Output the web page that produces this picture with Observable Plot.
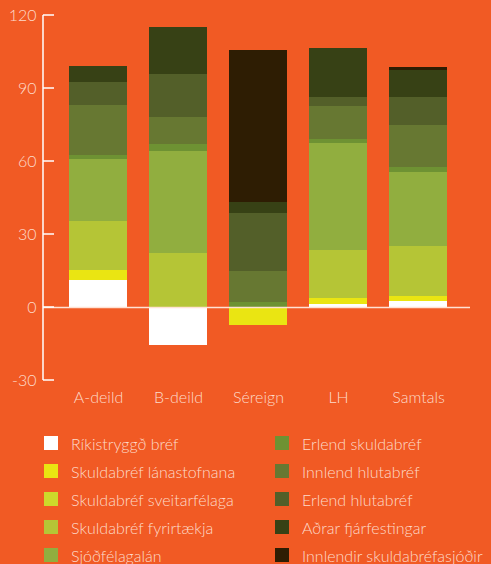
<!DOCTYPE html>
<html>
<head>
<meta charset="utf-8">
<script src="https://cdn.jsdelivr.net/npm/d3@7"></script>
<script src="https://cdn.jsdelivr.net/npm/@observablehq/plot@0.6"></script>
<style>
  html, body { margin: 0; padding: 0; background: #F15A24; }
  body { width: 491px; height: 564px; overflow: hidden; font-family: Lato, "Open Sans", sans-serif; }
  #chart svg { display: block; }
  .legend { display: grid; grid-template-columns: 231px auto; grid-auto-rows: 28px; padding: 9px 0 0 44px; color: #FDDACA; font-size: 16px; font-weight: 300; }
  .legend .item { display: flex; align-items: center; white-space: nowrap; }
  .legend .sw { width: 14px; height: 14px; margin-right: 13px; flex: none; }
</style>
</head>
<body>
<div id="chart"></div>
<div class="legend" id="legend"></div>
<script>
const categories = ["A-deild", "B-deild", "Séreign", "LH", "Samtals"];
const seriesNames = [
  "Ríkistryggð bréf",
  "Skuldabréf lánastofnana",
  "Skuldabréf sveitarfélaga",
  "Skuldabréf fyrirtækja",
  "Sjóðfélagalán",
  "Erlend skuldabréf",
  "Innlend hlutabréf",
  "Erlend hlutabréf",
  "Aðrar fjárfestingar",
  "Innlendir skuldabréfasjóðir"
];
const seriesColors = ["#FFFFFF", "#EAE512", "#CDD92B", "#B5C536", "#91AE3F", "#6E9233", "#677832", "#535F29", "#374115", "#2E1D03"];

// values per series, in category order
const rikistryggd   = [11.0, -15.6, 0, 1.4, 2.3];
const lanastofnana  = [4.1, 0, -7.5, 2.2, 2.1];
const sveitarfelaga = [0, 0, 0, 0, 0];
const fyrirtaekja   = [20.1, 22.2, 0, 19.7, 20.5];
const sjodfelagalan = [25.5, 41.8, 0, 44.0, 30.5];
const erlendSkuld   = [1.6, 2.9, 1.9, 1.6, 2.0];
const innlendHluta  = [20.6, 11.1, 12.8, 13.6, 17.3];
const erlendHluta   = [9.5, 17.6, 23.8, 3.7, 11.5];
const adrar         = [6.5, 19.3, 4.5, 20.1, 11.2];
const innlendirSjod = [0, 0, 62.5, 0, 1.2];

const yTicks = [-30, 0, 30, 60, 90, 120];

const seriesValues = [rikistryggd, lanastofnana, sveitarfelaga, fyrirtaekja, sjodfelagalan, erlendSkuld, innlendHluta, erlendHluta, adrar, innlendirSjod];
const table = [];
seriesNames.forEach((s, i) => {
  categories.forEach((c, j) => {
    table.push({category: c, series: s, value: seriesValues[i][j]});
  });
});

// custom y-axis line with inward (rightward) ticks, positioned via the y scale
function yAxisLine(index, scales, values, dimensions) {
  const y = scales.y;
  const x0 = dimensions.marginLeft;
  const g = d3.create("svg:g").attr("stroke", "white").attr("stroke-width", 1.5).attr("fill", "none");
  g.append("line")
    .attr("x1", x0).attr("x2", x0)
    .attr("y1", y(d3.max(yTicks))).attr("y2", y(d3.min(yTicks)));
  g.selectAll("path.tick").data(yTicks).join("line")
    .attr("x1", x0).attr("x2", x0 + 11)
    .attr("y1", d => y(d)).attr("y2", d => y(d));
  return g.node();
}

const chart = Plot.plot({
  width: 491,
  height: 420,
  marginTop: 15,
  marginBottom: 40,
  marginLeft: 43,
  marginRight: 21,
  style: {background: "transparent", color: "#FDDACA", fontFamily: "Lato, 'Open Sans', sans-serif", fontSize: "15px"},
  x: {domain: categories, range: [43, 473], paddingInner: 0.275, paddingOuter: 0.325, label: null},
  y: {domain: [-30, 120], label: null},
  color: {domain: seriesNames, range: seriesColors},
  marks: [
    Plot.barY(table, {x: "category", y: "value", fill: "series", order: seriesNames, shapeRendering: "crispEdges"}),
    Plot.ruleY([0], {stroke: "#FFE2D4", strokeWidth: 1.5}),
    yAxisLine,
    Plot.axisY({ticks: yTicks, tickSize: 0, tickPadding: 7, fill: "#FDDACA", fontSize: 16, fontWeight: 300, tickFormat: d => String(d), label: null}),
    Plot.axisX({tickSize: 0, tickPadding: 11, fill: "#FDDACA", fontSize: 16, fontWeight: 300, label: null})
  ]
});
document.getElementById("chart").appendChild(chart);

// legend: column-major order (5 rows x 2 columns)
const legend = document.getElementById("legend");
const rows = 5;
for (let r = 0; r < rows; r++) {
  for (let c = 0; c < 2; c++) {
    const i = c * rows + r;
    const item = document.createElement("div");
    item.className = "item";
    const sw = document.createElement("span");
    sw.className = "sw";
    sw.style.background = seriesColors[i];
    const t = document.createElement("span");
    t.textContent = seriesNames[i];
    item.appendChild(sw);
    item.appendChild(t);
    legend.appendChild(item);
  }
}
</script>
</body>
</html>
